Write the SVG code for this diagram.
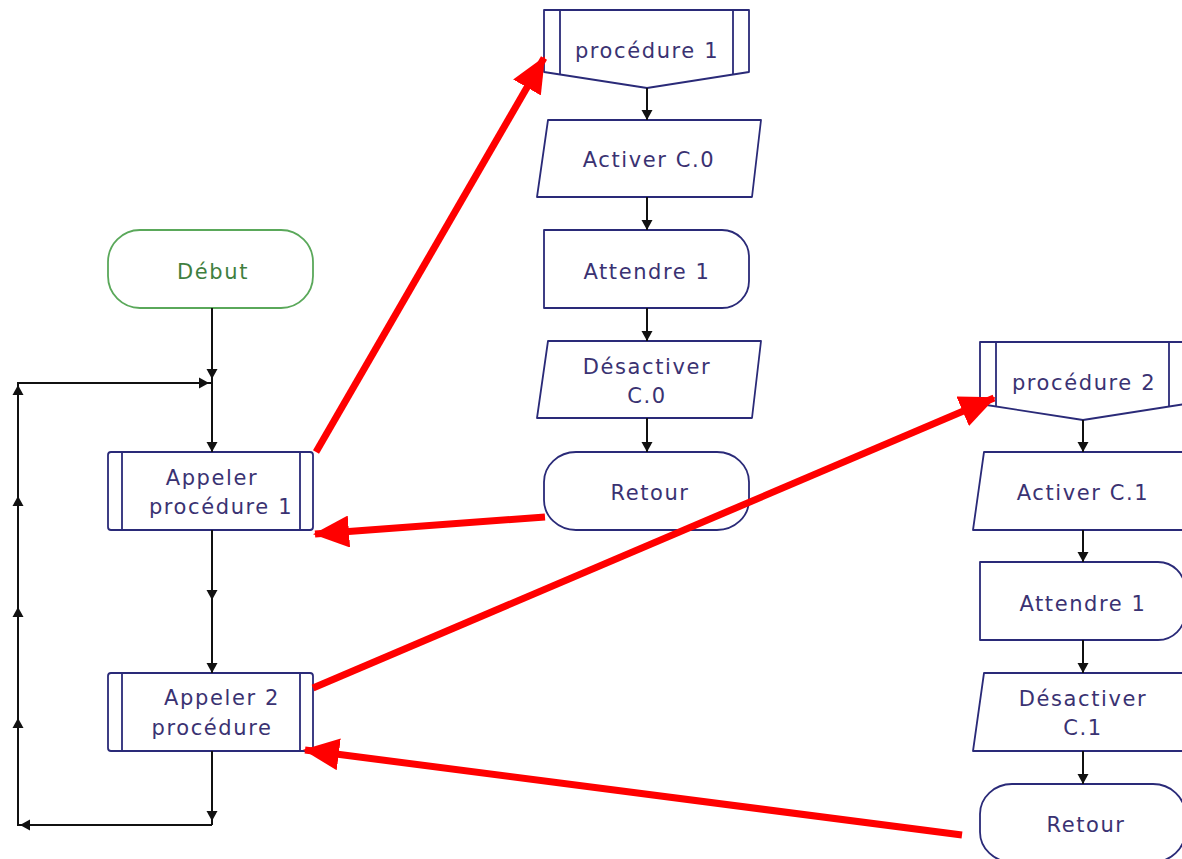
<svg xmlns="http://www.w3.org/2000/svg" xmlns:xlink="http://www.w3.org/1999/xlink" width="1182" height="859" viewBox="0 0 1182 859">
<style>
.n{fill:#fff;stroke:#2a2a78;stroke-width:1.8;stroke-linejoin:round}
.g{fill:#fff;stroke:#5aa85a;stroke-width:1.8}
.t{font-family:"DejaVu Sans",Verdana,sans-serif;font-size:21px;letter-spacing:1.6px;fill:#3a3272;text-anchor:middle}
.tg{fill:#3f7f3f}
.c{stroke:#111;stroke-width:2;fill:none}
.r{stroke:#f00;stroke-width:7;fill:none}
</style>
<defs>
<path id="ah" d="M0,0 L-5.5,-10 L5.5,-10 Z" fill="#111"/>
<marker id="rh" markerUnits="userSpaceOnUse" markerWidth="36" markerHeight="32" viewBox="0 0 36 32" refX="34" refY="16" orient="auto">
<path d="M0,0 L36,16 L0,32 Z" fill="#f00"/>
</marker>
</defs>
<rect width="1182" height="859" fill="#fff"/>

<g id="debut">
<rect class="g" x="108" y="230" width="205" height="78" rx="32" ry="32"/>
<text class="t tg" x="213" y="279">Début</text>
</g>
<g id="appeler1">
<rect class="n" x="108" y="452" width="205" height="78" rx="3"/>
<line class="n" x1="122" y1="452" x2="122" y2="530"/>
<line class="n" x1="300" y1="452" x2="300" y2="530"/>
<text class="t" x="212" y="485">Appeler</text>
<text class="t" x="221" y="514">procédure 1</text>
</g>
<g id="appeler2">
<rect class="n" x="108" y="673" width="205" height="78" rx="3"/>
<line class="n" x1="122" y1="673" x2="122" y2="751"/>
<line class="n" x1="300" y1="673" x2="300" y2="751"/>
<text class="t" x="222" y="705">Appeler 2</text>
<text class="t" x="212" y="735">procédure</text>
</g>

<g id="proc1">
<path class="n" d="M544,10 L749,10 L749,72 L647,88 L544,72 Z"/>
<line class="n" x1="560" y1="10" x2="560" y2="74"/>
<line class="n" x1="733" y1="10" x2="733" y2="74"/>
<text class="t" x="647" y="58">procédure 1</text>
</g>
<g id="activer0">
<path class="n" d="M548,120 L761,120 L752,197 L537,197 Z"/>
<text class="t" x="649" y="167">Activer C.0</text>
</g>
<g id="attendre0">
<path class="n" d="M544,230 L722,230 A27,27 0 0 1 749,257 L749,281 A27,27 0 0 1 722,308 L544,308 Z"/>
<text class="t" x="647" y="279">Attendre 1</text>
</g>
<g id="desactiver0">
<path class="n" d="M548,341 L761,341 L752,418 L537,418 Z"/>
<text class="t" x="647" y="374">Désactiver</text>
<text class="t" x="647" y="403">C.0</text>
</g>
<g id="retour0">
<rect class="n" x="544" y="452" width="205" height="78" rx="32" ry="30"/>
<text class="t" x="650" y="500">Retour</text>
</g>

<g id="proc2">
<path class="n" d="M980,342 L1185,342 L1185,404 L1083,420 L980,404 Z"/>
<line class="n" x1="996" y1="342" x2="996" y2="406"/>
<line class="n" x1="1169" y1="342" x2="1169" y2="406"/>
<text class="t" x="1084" y="390">procédure 2</text>
</g>
<g id="activer1">
<path class="n" d="M984,452 L1197,452 L1188,530 L973,530 Z"/>
<text class="t" x="1083" y="500">Activer C.1</text>
</g>
<g id="attendre1">
<path class="n" d="M980,562 L1158,562 A27,27 0 0 1 1185,589 L1185,613 A27,27 0 0 1 1158,640 L980,640 Z"/>
<text class="t" x="1083" y="611">Attendre 1</text>
</g>
<g id="desactiver1">
<path class="n" d="M984,673 L1197,673 L1188,751 L973,751 Z"/>
<text class="t" x="1083" y="706">Désactiver</text>
<text class="t" x="1083" y="735">C.1</text>
</g>
<g id="retour1">
<rect class="n" x="980" y="784" width="205" height="78" rx="32" ry="30"/>
<text class="t" x="1086" y="832">Retour</text>
</g>

<g id="connectors">
<line class="c" x1="647" y1="88" x2="647" y2="120"/><use xlink:href="#ah" href="#ah" transform="translate(647,120)"/>
<line class="c" x1="647" y1="197" x2="647" y2="230"/><use xlink:href="#ah" href="#ah" transform="translate(647,230)"/>
<line class="c" x1="647" y1="308" x2="647" y2="341"/><use xlink:href="#ah" href="#ah" transform="translate(647,341)"/>
<line class="c" x1="647" y1="418" x2="647" y2="452"/><use xlink:href="#ah" href="#ah" transform="translate(647,452)"/>
<line class="c" x1="1083" y1="420" x2="1083" y2="452"/><use xlink:href="#ah" href="#ah" transform="translate(1083,452)"/>
<line class="c" x1="1083" y1="530" x2="1083" y2="562"/><use xlink:href="#ah" href="#ah" transform="translate(1083,562)"/>
<line class="c" x1="1083" y1="640" x2="1083" y2="673"/><use xlink:href="#ah" href="#ah" transform="translate(1083,673)"/>
<line class="c" x1="1083" y1="751" x2="1083" y2="784"/><use xlink:href="#ah" href="#ah" transform="translate(1083,784)"/>

<line class="c" x1="212" y1="308" x2="212" y2="452"/>
<use xlink:href="#ah" href="#ah" transform="translate(212,379)"/>
<use xlink:href="#ah" href="#ah" transform="translate(212,452)"/>
<polyline class="c" points="212,825 18,825 18,383 212,383"/>
<use xlink:href="#ah" href="#ah" transform="translate(209,383) rotate(-90)"/>
<use xlink:href="#ah" href="#ah" transform="translate(18,385) rotate(180)"/>
<use xlink:href="#ah" href="#ah" transform="translate(18,496) rotate(180)"/>
<use xlink:href="#ah" href="#ah" transform="translate(18,607) rotate(180)"/>
<use xlink:href="#ah" href="#ah" transform="translate(18,718) rotate(180)"/>
<line class="c" x1="212" y1="530" x2="212" y2="673"/>
<use xlink:href="#ah" href="#ah" transform="translate(212,600)"/>
<use xlink:href="#ah" href="#ah" transform="translate(212,673)"/>
<line class="c" x1="212" y1="751" x2="212" y2="825"/>
<use xlink:href="#ah" href="#ah" transform="translate(212,821)"/>
<use xlink:href="#ah" href="#ah" transform="translate(20,825) rotate(90)"/>

<line class="r" x1="316" y1="452" x2="544" y2="58" marker-end="url(#rh)"/>
<line class="r" x1="545" y1="517" x2="315" y2="534" marker-end="url(#rh)"/>
<line class="r" x1="313" y1="688" x2="994" y2="398" marker-end="url(#rh)"/>
<line class="r" x1="962" y1="835" x2="305" y2="750" marker-end="url(#rh)"/>
</g>
</svg>
